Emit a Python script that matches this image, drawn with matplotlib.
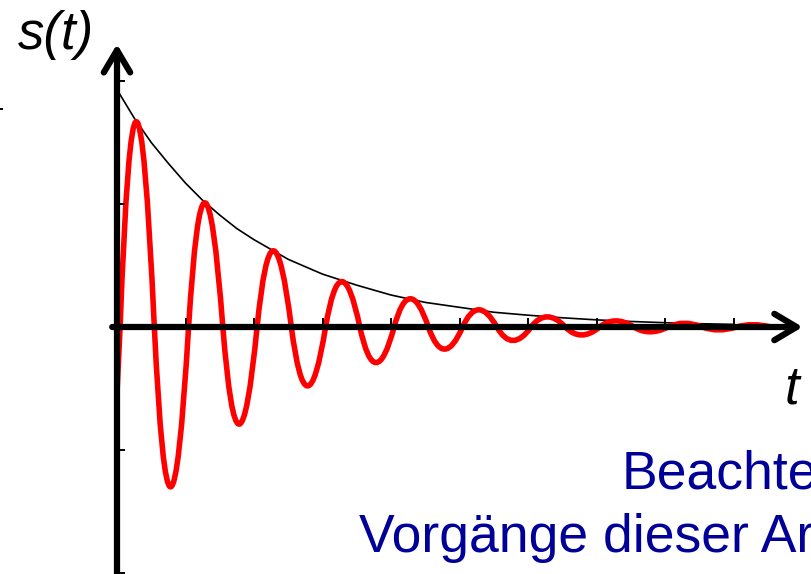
import numpy as np
import matplotlib
matplotlib.use("Agg")
import matplotlib.pyplot as plt
from matplotlib.path import Path
from matplotlib.patches import PathPatch

# values (t in units of the x ticks, s in units of the y ticks)
start_value = -0.54                     # s(0), curve starts below the axis
zero_crossings = [0.045, 0.545, 1.045, 1.545, 2.045, 2.545, 3.045, 3.545, 4.045,
                  4.545, 5.045, 5.545, 6.045, 6.545, 7.045, 7.545, 8.045, 8.545,
                  9.045, 9.545]
peak_t = [0.282, 0.782, 1.282, 1.782, 2.282, 2.782, 3.282, 3.782, 4.282, 4.782,
          5.282, 5.782, 6.282, 6.782, 7.282, 7.782, 8.282, 8.782, 9.282]
peak_s = [1.67, -1.30, 1.01, -0.79, 0.62, -0.48, 0.37, -0.29, 0.23, -0.18,
          0.14, -0.11, 0.083, -0.065, 0.050, -0.039, 0.031, -0.024, 0.019]

env_t = [0, 0.25, 0.5, 0.75, 1.0, 1.25, 1.5, 1.75, 2.0, 2.5, 3.0, 3.5, 4.0,
         4.5, 5.0, 5.5, 6.0, 6.5, 7.0, 7.5, 8.0, 8.5, 9.0]
env_s = [1.93, 1.70, 1.50, 1.33, 1.17, 1.03, 0.91, 0.80, 0.71, 0.55, 0.43,
         0.34, 0.26, 0.20, 0.16, 0.12, 0.096, 0.075, 0.058, 0.045, 0.035,
         0.027, 0.021]

x_ticks = [1, 2, 3, 4, 5, 6, 7, 8, 9]
y_ticks = [-2, -1, 1, 2]

fig = plt.figure(figsize=(8.12, 5.74), dpi=100)
ax = fig.add_axes([0, 0, 1, 1])
ax.set_xlim(-117 / 68.5, 695 / 68.5)
ax.set_ylim(-247 / 123, 327 / 123)
ax.axis("off")

# damped oscillation: one quadratic bezier arch per half wave
verts = [(0, start_value), (zero_crossings[0], 0)]
codes = [Path.MOVETO, Path.LINETO]
for k in range(len(peak_t)):
    z0, z1 = zero_crossings[k], zero_crossings[k + 1]
    cx = 2 * peak_t[k] - 0.5 * (z0 + z1)
    verts += [(cx, 2 * peak_s[k]), (z1, 0)]
    codes += [Path.CURVE3, Path.CURVE3]
ax.add_patch(PathPatch(Path(verts, codes), fill=False, edgecolor="#ff0000",
                       lw=4.0, joinstyle="round", capstyle="round", zorder=3))

# envelope
ax.plot(env_t, env_s, color="black", lw=1.2, zorder=2)

# coordinate axes with open arrow heads
arrow = dict(arrowstyle="->,head_length=1.6,head_width=0.95", lw=4.5,
             color="black", shrinkA=0, shrinkB=0, mutation_scale=10)
ax.annotate("", xy=(10.01, 0), xytext=(-0.07, 0), arrowprops=arrow, zorder=4)
ax.annotate("", xy=(0, 2.3), xytext=(0, -2.1), arrowprops=arrow, zorder=4)

# tick marks
ax.vlines(x_ticks, 0, 0.075, color="black", lw=1.4, zorder=4)
ax.hlines(y_ticks, 0, 0.12, color="black", lw=1.4, zorder=4)
ax.hlines([1.77], -1.72, -1.67, color="black", lw=1.4)

# labels
ax.text(-1.445, 2.26, "s(t)", fontsize=38, fontstyle="italic",
        family="Liberation Sans", va="baseline", ha="left")
ax.text(9.75, -0.62, "t", fontsize=38, fontstyle="italic",
        family="Liberation Sans", va="baseline", ha="left")
ax.text(7.37, -1.31, "Beachte", fontsize=38.5, color="#000099",
        family="Liberation Sans", va="baseline", ha="left")
ax.text(3.53, -1.83, "Vorgänge dieser Ar", fontsize=38.5, color="#000099",
        family="Liberation Sans", va="baseline", ha="left")

fig.savefig("out.png", dpi=100)
